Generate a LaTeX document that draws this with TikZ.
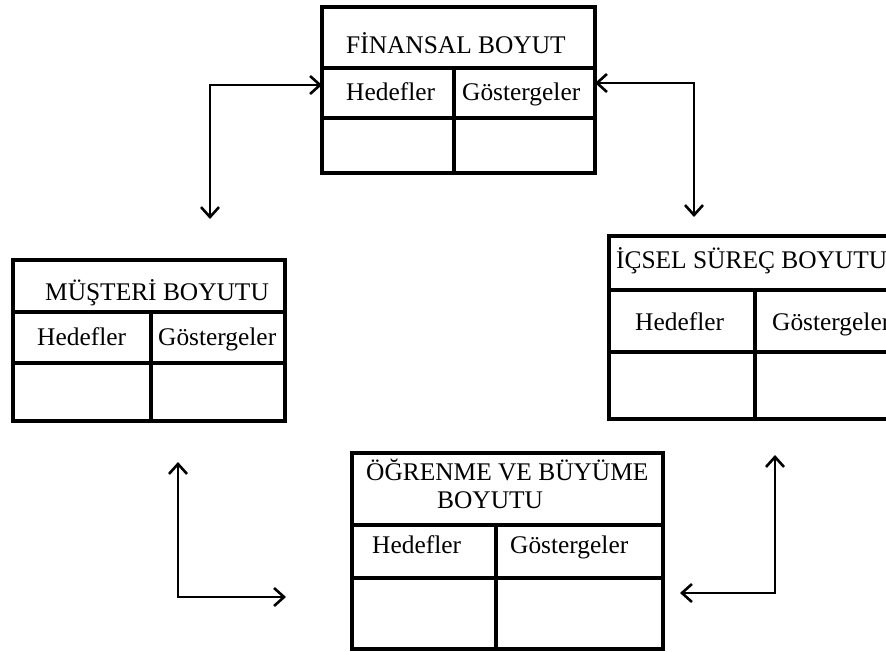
\documentclass[tikz,border=0pt]{standalone}
\usepackage{fontspec}
\setmainfont{Liberation Serif}
\usetikzlibrary{arrows.meta}

% framed table: title row, header row (Hedefler | Göstergeler), empty row
% #1 name, #2-#5 corners x1,y1,x2,y2, #6 #7 row lines, #8 column line
\newcommand{\kartbox}[8]{%
  \node[boxframe, anchor=north west, minimum width={(#4-#2)*1pt},
        minimum height={(#5-#3)*1pt}] (#1) at (#2,#3) {};
  \draw[boxline] (#2,#6) -- (#4,#6);
  \draw[boxline] (#2,#7) -- (#4,#7);
  \draw[boxline] (#8,#6) -- (#8,#5);
}

\begin{document}
\begin{tikzpicture}[x=1pt, y=-1pt,
  boxline/.style={line width=4pt, line cap=rect},
  boxframe/.style={draw, line width=4pt, inner sep=0pt, outer sep=0pt},
  lbl/.style={anchor=base west, inner sep=0pt,
              font=\fontsize{25.4}{29}\selectfont},
  link/.style={line width=2.6pt,
               {Straight Barb[length=10pt,width=18pt,line width=2.6pt]}-{Straight Barb[length=10pt,width=18pt,line width=2.6pt]}}
]
\clip (0,0) rectangle (886,651);
\fill[white] (0,0) rectangle (886,651);

% the four perspectives
\kartbox{fin}{322}{7}{595}{173}{68}{118}{454}
\kartbox{mus}{13}{260}{285}{421}{312}{363}{151}
\kartbox{ics}{609}{236}{905}{419}{290}{352}{755}
\kartbox{ogr}{352}{453}{663}{649}{525}{578}{496}

% titles and headers
\node[lbl] (finT) at (346,53) {FİNANSAL BOYUT};
\node[lbl] (finH) at (346,100) {Hedefler};
\node[lbl] (finG) at (462,100) {Göstergeler};

\node[lbl] (musT) at (45,300) {MÜŞTERİ BOYUTU};
\node[lbl] (musH) at (37,345) {Hedefler};
\node[lbl] (musG) at (158,345) {Göstergeler};

\node[lbl] (icsT) at (616,268) {İÇSEL SÜREÇ BOYUTU};
\node[lbl] (icsH) at (635,330) {Hedefler};
\node[lbl] (icsG) at (772,330) {Göstergeler};

\node[lbl] (ogrT1) at (366,480) {ÖĞRENME VE BÜYÜME};
\node[lbl] (ogrT2) at (437,508) {BOYUTU};
\node[lbl] (ogrH) at (372,553) {Hedefler};
\node[lbl] (ogrG) at (510,553) {Göstergeler};

% connector bends and free ends
\coordinate (k1) at (210,85);
\coordinate (e1) at (210,219);
\coordinate (k2) at (694,83);
\coordinate (e2) at (694,217);
\coordinate (e3) at (178,462);
\coordinate (k3) at (178,597);
\coordinate (e4) at (286,597);
\coordinate (e5) at (775,455);
\coordinate (k4) at (775,593);
\coordinate (e6) at (680,593);

\draw[link] (e1) -- (k1) -- (k1 -| fin.west);
\draw[link] (k2 -| fin.east) -- (k2) -- (e2);
\draw[link] (e3) -- (k3) -- (e4);
\draw[link] (e6) -- (k4) -- (e5);
\end{tikzpicture}
\end{document}
